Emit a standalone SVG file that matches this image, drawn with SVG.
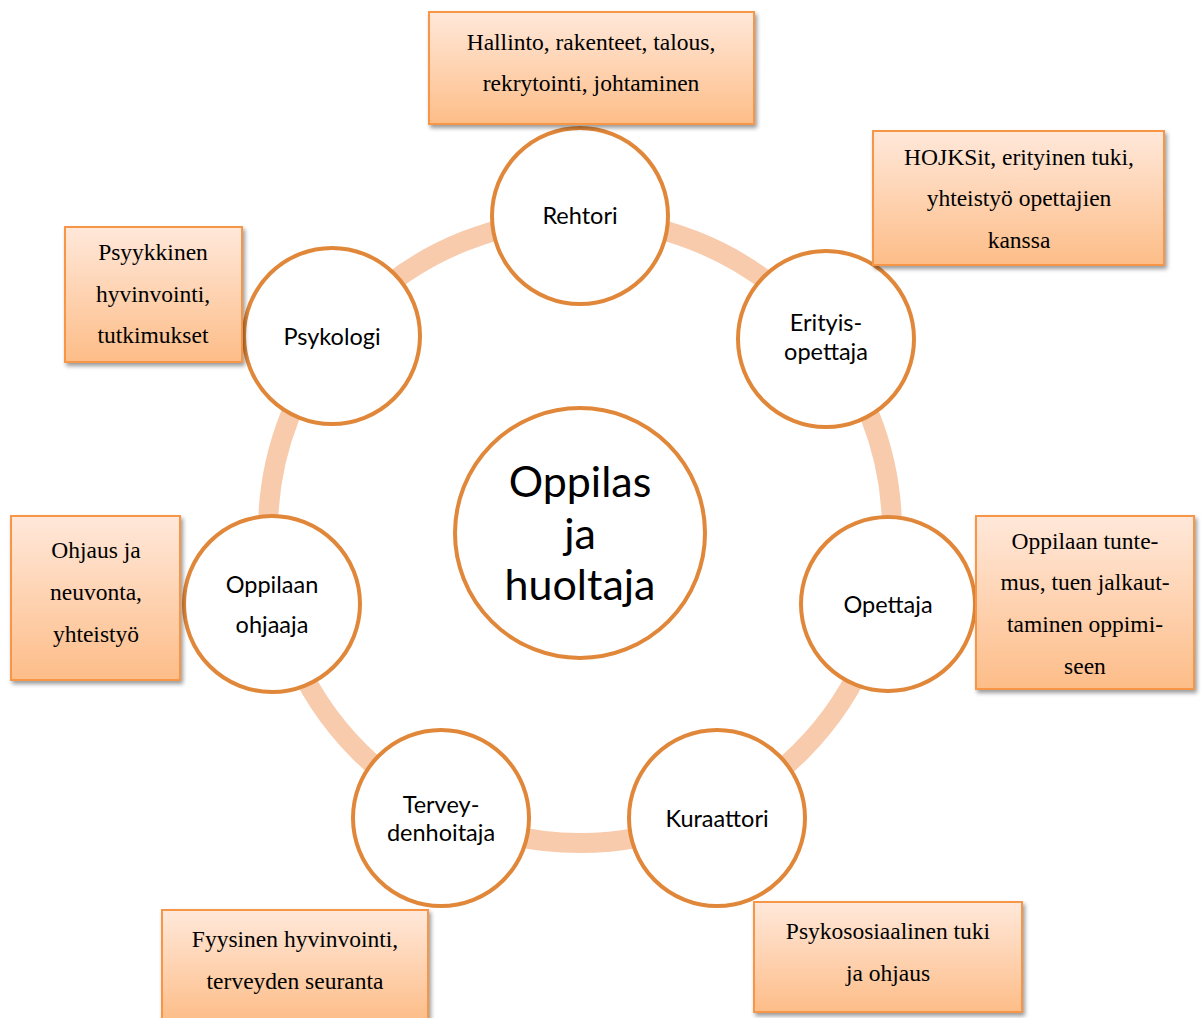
<svg xmlns="http://www.w3.org/2000/svg" width="1201" height="1018" viewBox="0 0 1201 1018">
<style>
.ring{fill:none;stroke:#F8CBAD;stroke-width:20}
.node{fill:#fff;stroke:#E0873A;stroke-width:4}
.box{fill:url(#bg);stroke:#F79646;stroke-width:2;filter:url(#sh)}
.ct{font-family:Lato,"Open Sans",sans-serif;font-size:23.5px;fill:#000;text-anchor:middle}
.big{font-size:43px}
.bt{font-family:"Liberation Serif","Times New Roman",serif;font-size:23.5px;fill:#000;text-anchor:middle}
</style>
<defs>
<linearGradient id="bg" x1="0" y1="0" x2="0" y2="1">
<stop offset="0" stop-color="#FFE8DA"/>
<stop offset="1" stop-color="#FDBD88"/>
</linearGradient>
<filter id="sh" x="-10%" y="-10%" width="120%" height="130%">
<feDropShadow dx="2" dy="3" stdDeviation="2" flood-color="#000" flood-opacity="0.4"/>
</filter>
</defs>
<rect width="1201" height="1018" fill="#fff"/>
<g id="connectors">
<circle class="ring" cx="580" cy="531" r="312"/>
</g>
<g id="center">
<circle class="node" cx="580" cy="533" r="125"/>
<text class="ct big" x="580" y="497">Oppilas</text>
<text class="ct big" x="580" y="549">ja</text>
<text class="ct big" x="580" y="600">huoltaja</text>
</g>
<g id="rehtori">
<circle class="node" cx="580" cy="216" r="88"/>
<text class="ct" x="580" y="224">Rehtori</text>
</g>
<g id="erityisopettaja">
<circle class="node" cx="826" cy="339" r="88"/>
<text class="ct" x="826" y="331">Erityis-</text>
<text class="ct" x="826" y="360">opettaja</text>
</g>
<g id="opettaja">
<circle class="node" cx="888" cy="604" r="87"/>
<text class="ct" x="888" y="613">Opettaja</text>
</g>
<g id="kuraattori">
<circle class="node" cx="717" cy="818" r="88"/>
<text class="ct" x="717" y="827">Kuraattori</text>
</g>
<g id="terveydenhoitaja">
<circle class="node" cx="441" cy="818" r="88"/>
<text class="ct" x="441" y="813">Tervey-</text>
<text class="ct" x="441" y="841">denhoitaja</text>
</g>
<g id="oppilaanohjaaja">
<circle class="node" cx="272" cy="604" r="88"/>
<text class="ct" x="272" y="593">Oppilaan</text>
<text class="ct" x="272" y="633">ohjaaja</text>
</g>
<g id="psykologi">
<circle class="node" cx="332" cy="336" r="88"/>
<text class="ct" x="332" y="345">Psykologi</text>
</g>
<g id="box-rehtori">
<rect class="box" x="429" y="12" width="325" height="112"/>
<text class="bt" x="591" y="50">Hallinto, rakenteet, talous,</text>
<text class="bt" x="591" y="91">rekrytointi, johtaminen</text>
</g>
<g id="box-erityisopettaja">
<rect class="box" x="873" y="131" width="291" height="134"/>
<text class="bt" x="1019" y="165">HOJKSit, erityinen tuki,</text>
<text class="bt" x="1019" y="206">yhteistyö opettajien</text>
<text class="bt" x="1019" y="248">kanssa</text>
</g>
<g id="box-psykologi">
<rect class="box" x="65" y="227" width="177" height="135"/>
<text class="bt" x="153" y="260">Psyykkinen</text>
<text class="bt" x="153" y="302">hyvinvointi,</text>
<text class="bt" x="153" y="343">tutkimukset</text>
</g>
<g id="box-oppilaanohjaaja">
<rect class="box" x="11" y="516" width="169" height="164"/>
<text class="bt" x="96" y="558">Ohjaus ja</text>
<text class="bt" x="96" y="600">neuvonta,</text>
<text class="bt" x="96" y="642">yhteistyö</text>
</g>
<g id="box-opettaja">
<rect class="box" x="976" y="516" width="218" height="173"/>
<text class="bt" x="1085" y="549">Oppilaan tunte-</text>
<text class="bt" x="1085" y="590">mus, tuen jalkaut-</text>
<text class="bt" x="1085" y="632">taminen oppimi-</text>
<text class="bt" x="1085" y="674">seen</text>
</g>
<g id="box-kuraattori">
<rect class="box" x="754" y="902" width="268" height="110"/>
<text class="bt" x="888" y="939">Psykososiaalinen tuki</text>
<text class="bt" x="888" y="981">ja ohjaus</text>
</g>
<g id="box-terveydenhoitaja">
<rect class="box" x="162" y="910" width="266" height="112"/>
<text class="bt" x="295" y="947">Fyysinen hyvinvointi,</text>
<text class="bt" x="295" y="989">terveyden seuranta</text>
</g>
</svg>
